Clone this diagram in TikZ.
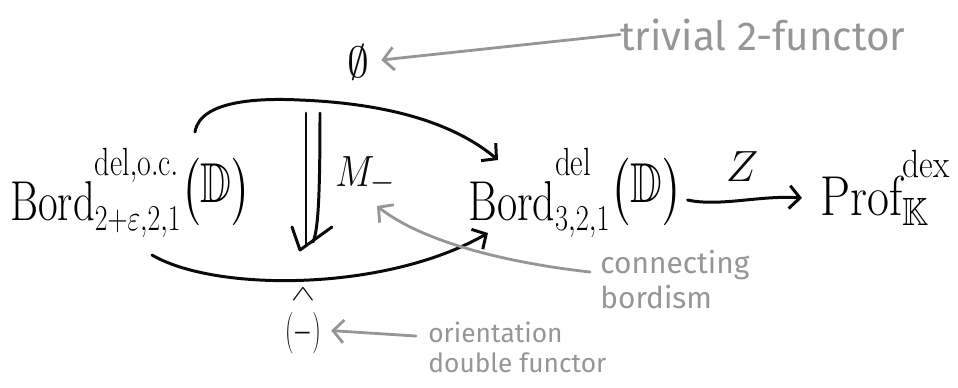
\documentclass[tikz,border=0pt]{standalone}
\usepackage{amsmath,amssymb}
\usepackage{graphicx}
\usepackage{fontspec}
\newfontfamily\handfont{Fira Sans}
\usetikzlibrary{arrows.meta,calc}
\definecolor{pen}{RGB}{10,10,10}
\definecolor{pencil}{RGB}{150,150,150}
\newcommand{\parD}{\raisebox{10pt}{$\bigl(\mathbb{D}\bigr)$}}
\newcommand{\upscr}[2][11pt]{\raisebox{#1}{$\scriptstyle\mathrm{#2}$}}
\begin{document}
\begin{tikzpicture}[x=0.02cm,y=-0.02cm,
  obj/.style={inner sep=0pt, anchor=base west, font=\fontsize{32}{38}\selectfont},
  lbl/.style={inner sep=0pt, text=pen},
  note/.style={text=pencil, font=\handfont\fontsize{17}{20}\selectfont, align=left, inner sep=0pt},
  cell/.style={draw=pen, line width=1.7pt, line cap=round, line join=round, -{Straight Barb[length=6pt,width=13pt]}},
  twocell/.style={draw=pen, line width=1.7pt, line cap=round, line join=round},
  hint/.style={draw=pencil, line width=1.6pt, line cap=round, line join=round, -{Straight Barb[length=6pt,width=13pt]}}]
\path[use as bounding box] (0,0) rectangle (958,387);

\node[obj] (L) at (10,220) {\scalebox{0.76}[1]{$\mathrm{Bord}^{\upscr{del,o.c.}}_{2+\varepsilon,2,1}\parD$}};
\node[obj] (B) at (468,220) {\scalebox{0.78}[1]{$\mathrm{Bord}^{\upscr{del}}_{3,2,1}\parD$}};
\node[obj] (P) at (820,215) {\scalebox{0.85}[1]{$\mathrm{Prof}^{\upscr[7pt]{dex}}_{\mathbb{K}}$}};
\node[lbl, font=\fontsize{26}{30}\selectfont] (Z) at (742,167) {$Z$};
\node[lbl, font=\fontsize{36}{40}\selectfont] (E) at (358,62) {$\emptyset$};
\node[lbl, font=\fontsize{28}{32}\selectfont, anchor=base west] (Mm) at (335,186) {\scalebox{0.85}[1]{$M_-$}};
\node[lbl, font=\fontsize{30}{10}\selectfont, align=center, anchor=north] (H) at (303,288) {\scalebox{1}[0.6]{$\scriptstyle\wedge$}\\[6pt]\scalebox{0.55}[0.95]{$(-)$}};

\node[note, font=\handfont\fontsize{23}{26}\selectfont, anchor=base west] (T) at (620,50) {trivial 2-functor};
\node[note, anchor=north west, font=\handfont\fontsize{17}{20}\selectfont] (C) at (600,250) {connecting\\bordism};
\node[note, anchor=north west, font=\handfont\fontsize{15}{17}\selectfont] (O) at (428,322) {orientation\\double functor};

% 1-cells
\draw[cell] ($(B.base east)+(5,-20)$) .. controls (720,207) and (760,195) .. ($(P.base west)+(-18,-17)$);
\draw[cell] ($(L.base west)+(185,-88)$) .. controls (200,100) and (260,98) .. (300,100) .. controls (400,104) and (460,128) .. ($(B.base west)+(30,-60)$);
\draw[cell] ($(L.base west)+(142,35)$) .. controls (215,292) and (385,292) .. ($(B.base west)+(20,13)$);

% 2-cell
\coordinate (d1) at (306,113);
\coordinate (d2) at (320,113);
\coordinate (dt) at (300,250);
\draw[twocell] (d1) -- ($(dt)+(6,-4)$);
\draw[twocell] (d2) .. controls (320,200) and (318,230) .. ($(dt)+(13,-8)$);
\draw[twocell] (292,227) -- (dt) -- (332,227);

% annotations
\draw[hint] (T.west) -- ($(E.east)+(12,-2)$);
\draw[hint] ($(C.north west)+(-10,22)$) .. controls (500,262) and (420,240) .. ($(Mm.base west)+(42,20)$);
\draw[hint] ($(O.north west)+(-12,14)$) -- ($(H.south east)+(10,-24)$);
\end{tikzpicture}
\end{document}
